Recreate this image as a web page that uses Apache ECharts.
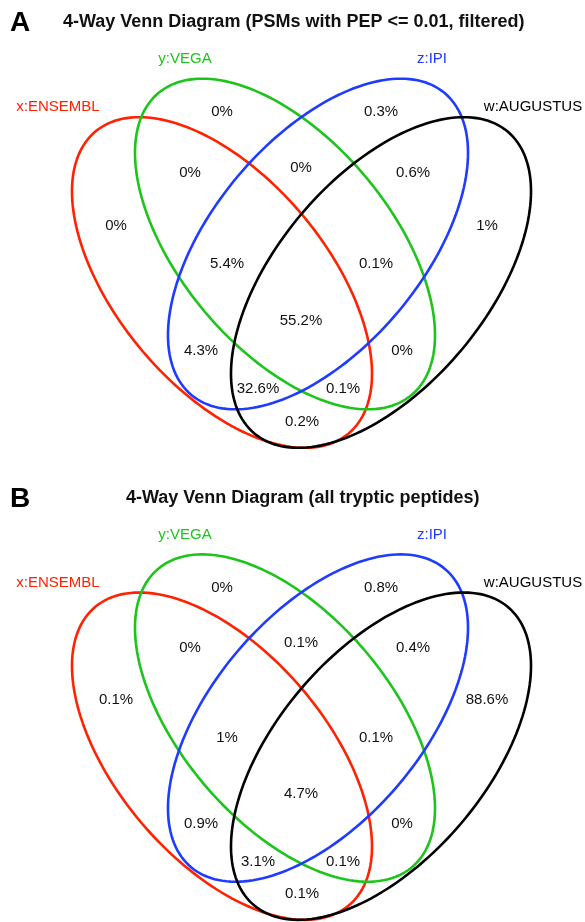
<!DOCTYPE html>
<html>
<head>
<meta charset="utf-8">
<script src="https://cdn.jsdelivr.net/npm/echarts@6/dist/echarts.min.js"></script>
<style>
html,body{margin:0;padding:0;background:#fff;}
#chart{width:585px;height:922px;}
</style>
</head>
<body>
<div id="chart"></div>
<script>
// ---- data ----
const panelLetters = ['A', 'B'];
const panelTitles = [
  '4-Way Venn Diagram (PSMs with PEP <= 0.01, filtered)',
  '4-Way Venn Diagram (all tryptic peptides)'
];
const setNames = ['x:ENSEMBL', 'y:VEGA', 'z:IPI', 'w:AUGUSTUS'];
const regions = ['x', 'y', 'z', 'w', 'xy', 'xz', 'xw', 'yz', 'yw', 'zw', 'xyz', 'xyw', 'xzw', 'yzw', 'xyzw'];
const percentsA = [0, 0, 0.3, 1, 0, 4.3, 0.2, 0, 0, 0.6, 5.4, 0.1, 32.6, 0.1, 55.2];
const percentsB = [0.1, 0, 0.8, 88.6, 0, 0.9, 0.1, 0.1, 0, 0.4, 1, 0.1, 3.1, 0.1, 4.7];

// ---- layout (diagram coordinates, shared by both panels) ----
const regionPos = {
  x: [116, 176], y: [222, 62], z: [381, 62], w: [487, 176],
  xy: [190, 123], xz: [201, 301], xw: [302, 372], yz: [301, 118],
  yw: [402, 301], zw: [413, 123], xyz: [227, 214], xyw: [343, 339],
  xzw: [258, 339], yzw: [376, 214], xyzw: [301, 271]
};
const setLabelPos = [[58, 57], [185, 9], [432, 9], [533, 57]];
const ellipseLayout = [
  { cx: 222, cy: 232.5, rot: 50 },
  { cx: 285, cy: 194, rot: 50 },
  { cx: 318, cy: 194, rot: -50 },
  { cx: 381, cy: 232.5, rot: -50 }
];
const semiMajor = 197, semiMinor = 105;
const setColors = ['#ff2200', '#1cc41c', '#1e3bff', '#000000'];
const gridTops = [50, 526];
const titleLayout = [
  { letterTop: 9, titleLeft: 63, titleTop: 13 },
  { letterTop: 485, titleLeft: 126, titleTop: 489 }
];

const panelValues = [percentsA, percentsB];

const grids = [], xAxes = [], yAxes = [], series = [], titles = [];
panelValues.forEach((vals, p) => {
  grids.push({ left: 0, top: gridTops[p], width: 585, height: 400 });
  xAxes.push({ type: 'value', gridIndex: p, min: 0, max: 585, show: false });
  yAxes.push({ type: 'value', gridIndex: p, min: 0, max: 400, inverse: true, show: false });

  titles.push({
    text: panelLetters[p], left: 10, top: titleLayout[p].letterTop, padding: 0,
    textStyle: { fontFamily: 'Liberation Sans', fontSize: 28, fontWeight: 'bold', color: '#000' }
  });
  titles.push({
    text: panelTitles[p], left: titleLayout[p].titleLeft, top: titleLayout[p].titleTop, padding: 0,
    textStyle: { fontFamily: 'Liberation Sans', fontSize: 18, fontWeight: 'bold', color: '#111' }
  });

  // ellipses
  series.push({
    type: 'custom',
    xAxisIndex: p, yAxisIndex: p,
    silent: true,
    data: setNames.map((n, i) => ({ name: n, value: [i] })),
    renderItem: function (params, api) {
      const i = api.value(0);
      const e = ellipseLayout[i];
      const th = e.rot * Math.PI / 180;
      const pts = [];
      const N = 180;
      for (let k = 0; k < N; k++) {
        const t = 2 * Math.PI * k / N;
        const x = e.cx + semiMajor * Math.cos(t) * Math.cos(th) - semiMinor * Math.sin(t) * Math.sin(th);
        const y = e.cy + semiMajor * Math.cos(t) * Math.sin(th) + semiMinor * Math.sin(t) * Math.cos(th);
        pts.push(api.coord([x, y]));
      }
      return {
        type: 'polygon',
        shape: { points: pts },
        style: { fill: 'none', stroke: setColors[i], lineWidth: 2.6 }
      };
    }
  });

  // region percentages
  series.push({
    type: 'scatter',
    xAxisIndex: p, yAxisIndex: p,
    silent: true,
    symbolSize: 1,
    itemStyle: { color: 'rgba(0,0,0,0)' },
    data: regions.map((r, k) => ({ name: r, value: [regionPos[r][0], regionPos[r][1], vals[k]] })),
    label: {
      show: true, position: 'inside', opacity: 1,
      formatter: d => d.value[2] + '%',
      fontFamily: 'Liberation Sans', fontSize: 15, color: '#111'
    }
  });

  // set names
  series.push({
    type: 'scatter',
    xAxisIndex: p, yAxisIndex: p,
    silent: true,
    symbolSize: 1,
    itemStyle: { color: 'rgba(0,0,0,0)' },
    data: setNames.map((n, i) => ({
      name: n, value: setLabelPos[i],
      label: { color: setColors[i] }
    })),
    label: {
      show: true, position: 'inside', opacity: 1,
      formatter: d => d.name,
      fontFamily: 'Liberation Sans', fontSize: 15
    }
  });
});

const chart = echarts.init(document.getElementById('chart'), null, { renderer: 'canvas' });
chart.setOption({
  animation: false,
  backgroundColor: '#fff',
  title: titles,
  grid: grids,
  xAxis: xAxes,
  yAxis: yAxes,
  series: series
});
</script>
</body>
</html>
